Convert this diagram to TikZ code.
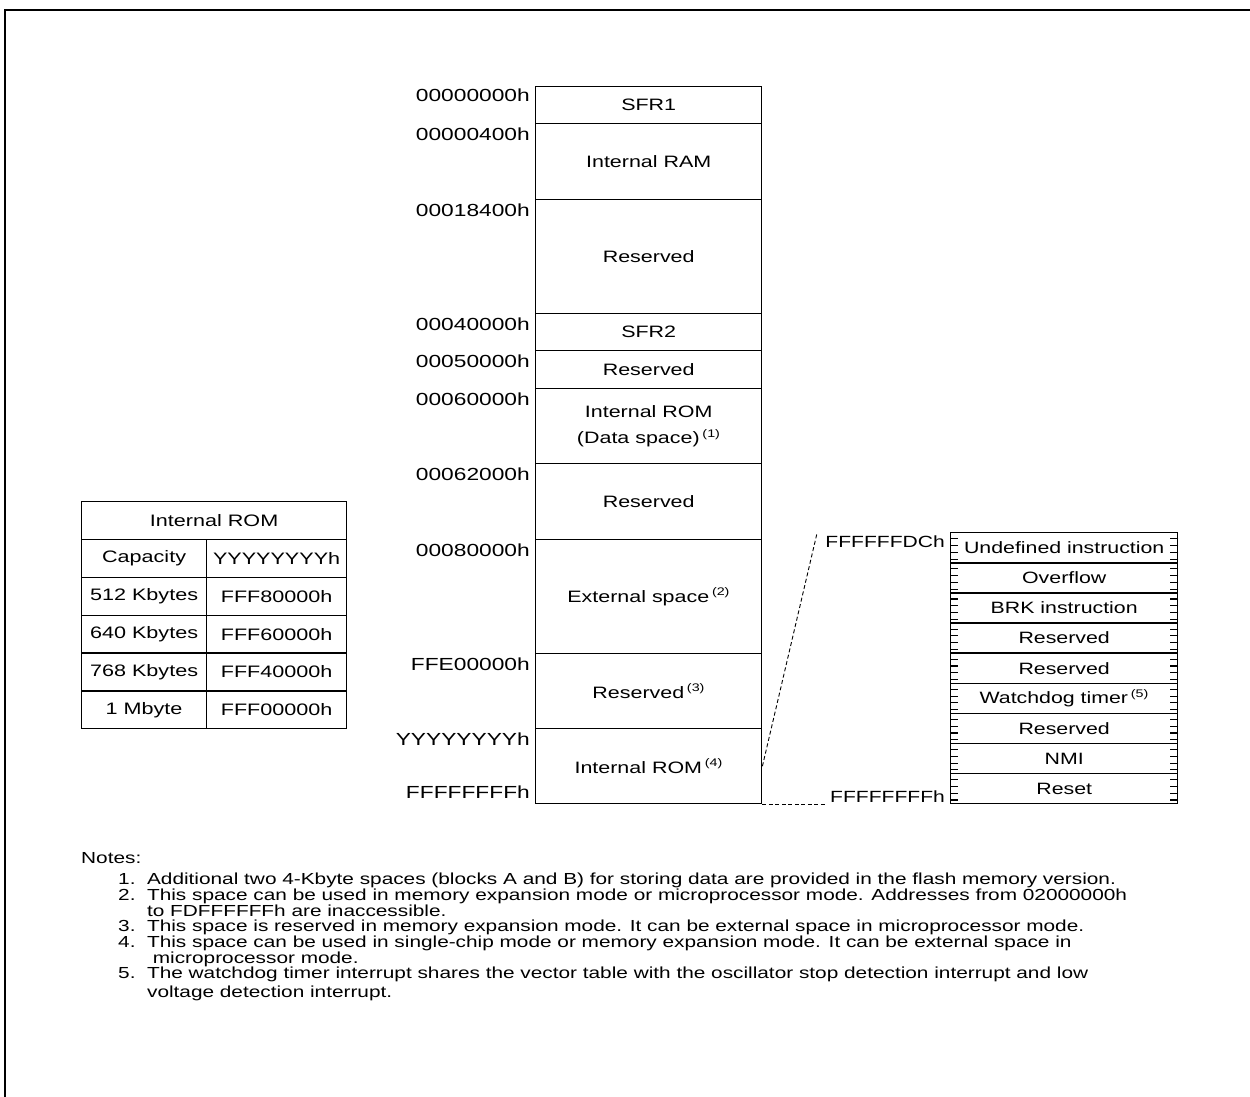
\documentclass[tikz,border=0pt]{standalone}
\usepackage{fontspec}
\setmainfont{Liberation Sans}[FakeStretch=1.3]
\usetikzlibrary{calc,positioning}
\tikzset{>=latex}
\tikzset{memcell/.style={draw, line width=1.4pt, anchor=north west, inner sep=0pt, minimum width=226pt, align=center, font=\fontsize{16.5}{26}\selectfont}}
\tikzset{addr/.style={anchor=base east, inner sep=0pt, font=\fontsize{17.5}{17.5}\selectfont}}
\tikzset{vaddr/.style={anchor=base east, inner sep=0pt, font=\fontsize{16.2}{16.2}\selectfont}}
\tikzset{veccell/.style={draw, line width=1.4pt, anchor=north west, inner sep=0pt, minimum width=227pt, minimum height=30.1pt, font=\fontsize{16.4}{16.4}\selectfont}}
\tikzset{romcell/.style={draw, line width=1.2pt, anchor=north west, inner sep=0pt, minimum height=38pt, font=\fontsize{16.6}{16.6}\selectfont}}
\tikzset{zoomline/.style={line width=0.9pt, dash pattern=on 4pt off 2.5pt}}
\newcommand{\nt}[1]{\textsuperscript{\fontsize{11}{11}\selectfont(#1)}}

\begin{document}
\begin{tikzpicture}[x=1pt,y=-1pt]
      \useasboundingbox (0,0) rectangle (1250,1097);
      \draw[line width=2pt] (5,10) rectangle (1280,1130);
      % memory map
      \node[memcell, minimum height=37pt] (sfr1) at (535,86) {SFR1};
      \node[memcell, minimum height=76pt] (ram) at (535,123) {Internal RAM};
      \node[memcell, minimum height=114pt] (res1) at (535,199) {Reserved};
      \node[memcell, minimum height=37pt] (sfr2) at (535,313) {SFR2};
      \node[memcell, minimum height=38pt] (res2) at (535,350) {Reserved};
      \node[memcell, minimum height=75pt] (rom1) at (535,388) {Internal ROM\\(Data space)\,\nt{1}};
      \node[memcell, minimum height=76pt] (res3) at (535,463) {Reserved};
      \node[memcell, minimum height=114pt] (ext) at (535,539) {External space\,\nt{2}};
      \node[memcell, minimum height=75pt] (res4) at (535,653) {Reserved\,\nt{3}};
      \node[memcell, minimum height=75pt] (rom4) at (535,728) {Internal ROM\,\nt{4}};
      % addresses
      \node[addr] (a0) at (530,102) {00000000h};
      \node[addr] (a1) at (530,140) {00000400h};
      \node[addr] (a2) at (530,216) {00018400h};
      \node[addr] (a3) at (530,330) {00040000h};
      \node[addr] (a4) at (530,367) {00050000h};
      \node[addr] (a5) at (530,405) {00060000h};
      \node[addr] (a6) at (530,480) {00062000h};
      \node[addr] (a7) at (530,556) {00080000h};
      \node[addr] (a8) at (530,670) {FFE00000h};
      \node[addr] (a9) at (530,745) {YYYYYYYYh};
      \node[addr] (a10) at (530,798) {FFFFFFFFh};
      % internal ROM sizes
      \node[romcell, minimum width=265pt] (hd) at (81,501) {Internal ROM};
      \foreach \i/\cap/\adr in {0/Capacity/YYYYYYYYh,1/512 Kbytes/FFF80000h,2/640 Kbytes/FFF60000h,3/768 Kbytes/FFF40000h,4/1 Mbyte/FFF00000h}{
        \node[romcell, minimum width=125pt] (c\i) at (81,539+37.8*\i) {\cap};
        \node[romcell, minimum width=140pt] (y\i) at (206,539+37.8*\i) {\adr};
      }
      % vector table
      \foreach \i/\txt in {0/Undefined instruction,1/Overflow,2/BRK instruction,3/Reserved,4/Reserved,5/Watchdog timer\,\nt{5},6/Reserved,7/NMI,8/Reset}{
        \node[veccell] (v\i) at (950,532+30.1*\i) {\txt};
        \foreach \k in {1,...,4}{
          \draw[line width=1.1pt] ($(v\i.north west)+(0,6.8*\k)$) -- ++(8,0);
          \draw[line width=1.1pt] ($(v\i.north east)+(0,6.8*\k)$) -- ++(-8,0);
        }
      }
      \node[vaddr] (vtop) at (945,547) {FFFFFFDCh};
      \node[vaddr] (vbot) at (945,802) {FFFFFFFFh};
      \draw[zoomline] (rom4.east) -- ($(vtop.north west)+(-8,-3)$);
      \draw[zoomline] (rom4.south east) -- ($(vbot.west|-rom4.south)+(-4,0)$);
      % notes
      \node[anchor=base west, inner sep=0pt, font=\fontsize{16}{16}\selectfont] (notes) at (81,863) {Notes:};
      \node[anchor=north west, inner sep=0pt, align=left, font=\fontsize{16}{14.6}\selectfont] (list) at (118,873) {%
        1.\ \ Additional two 4-Kbyte spaces (blocks A and B) for storing data are provided in the flash memory version.\\
        2.\ \ This space can be used in memory expansion mode or microprocessor mode. Addresses from 02000000h\\
        \phantom{2.\ \ }to FDFFFFFFh are inaccessible.\\
        3.\ \ This space is reserved in memory expansion mode. It can be external space in microprocessor mode.\\
        4.\ \ This space can be used in single-chip mode or memory expansion mode. It can be external space in\\
        \phantom{4.\ \ } microprocessor mode.\\
        5.\ \ The watchdog timer interrupt shares the vector table with the oscillator stop detection interrupt and low\\[3pt]
        \phantom{5.\ \ }voltage detection interrupt.};
\end{tikzpicture}
\end{document}
